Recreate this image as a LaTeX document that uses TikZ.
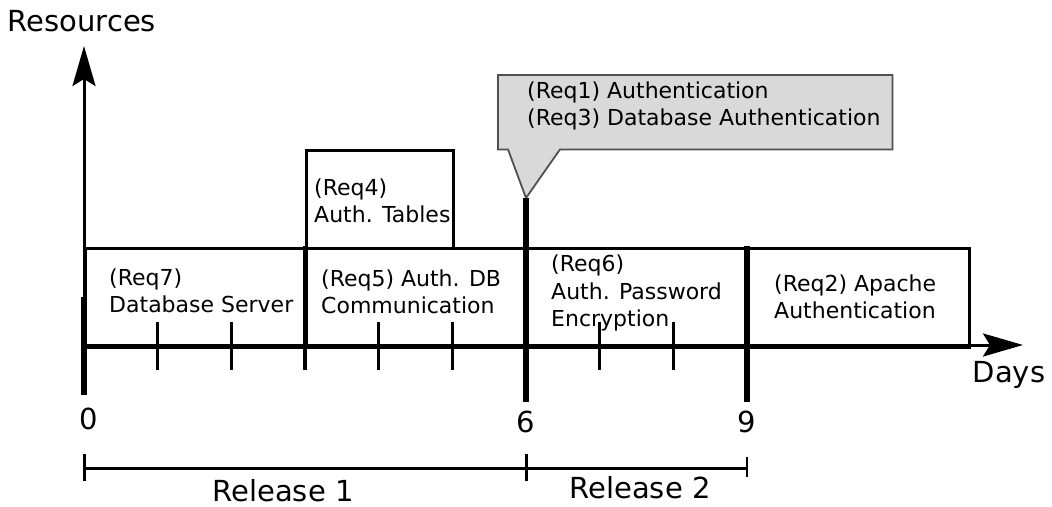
\documentclass[tikz,border=0pt]{standalone}
\usepackage{fontspec}
\setmainfont{DejaVu Sans}
\usetikzlibrary{arrows.meta}
\definecolor{calloutfill}{HTML}{D9D9D9}
\definecolor{calloutline}{HTML}{505050}
\begin{document}
\begin{tikzpicture}[x=1pt,y=-1pt,
  cell/.style={draw, line width=3pt, inner sep=0pt, anchor=north west},
  boxtext/.style={font=\fontsize{22}{27.5}\selectfont, align=left, anchor=west, inner sep=0pt},
  biglabel/.style={font=\fontsize{29}{34}\selectfont, inner sep=0pt, anchor=base},
  axisline/.style={line width=3pt, -{Stealth[length=40pt,width=23pt,inset=7pt]}},
  marker/.style={line width=5.8pt},
  tickmark/.style={line width=3pt},
  bracket/.style={line width=3pt}]
\useasboundingbox (0,0) rectangle (1052,506);

% requirement cells on the timeline
\node[cell, minimum width=221pt, minimum height=99pt] (c7) at (84,246.5) {};
\node[cell, minimum width=221pt, minimum height=99pt] (c5) at (305,246.5) {};
\node[cell, minimum width=221pt, minimum height=99pt] (c6) at (526,246.5) {};
\node[cell, minimum width=221pt, minimum height=99pt] (c2) at (747,246.5) {};
\node[cell, minimum width=147pt, minimum height=97.5pt] (c4) at (305,149) {};

\node[boxtext] (t7) at (109,291) {(Req7)\\Database Server};
\node[boxtext] (t5) at (321,292) {(Req5) Auth. DB\\Communication};
\node[boxtext] (t4) at (314,201) {(Req4)\\Auth. Tables};
\node[boxtext] (t6) at (551,293) {(Req6)\\Auth. Password\\Encryption};
\node[boxtext] (t2) at (774,297) {(Req2) Apache\\Authentication};

% callout for the requirements released at day 6
\node[inner sep=0pt, minimum width=394pt, minimum height=74pt, anchor=north west] (call) at (498,75) {};
\coordinate (tip) at (526,198);
\filldraw[fill=calloutfill, draw=calloutline, line width=1.8pt, line join=miter]
  (call.north west) -- (call.north east) -- (call.south east)
  -- ([xshift=62pt]call.south west) -- (tip) -- ([xshift=10pt]call.south west)
  -- (call.south west) -- cycle;
\node[boxtext] (t13) at (527,106) {(Req1) Authentication\\(Req3) Database Authentication};

% axes
\coordinate (origin) at (84,345);
\coordinate (ytip) at (84,46);
\coordinate (xtip) at (1023,345);
\draw[axisline] (origin) -- (ytip);
\draw[axisline] ([xshift=-1.5pt]origin) -- (xtip);
\node[biglabel] (res) at (82,31) {Resources};
\node[biglabel] (days) at (1009,382) {Days};

% day ticks
\foreach \d in {1,2,4,5,7,8}
  \draw[tickmark] ({84+73.67*\d},322) -- ({84+73.67*\d},370);
\draw[line width=3.6pt] (305,246) -- (305,370);

% release boundaries
\draw[marker] (84,297) -- (84,395);
\draw[marker] (tip) -- (526,402);
\draw[marker] (747,246) -- (747,402);
\node[biglabel] (d0) at (89,429) {0};
\node[biglabel] (d6) at (526,432) {6};
\node[biglabel] (d9) at (747,432) {9};

% release spans
\coordinate (r0) at (84,468);
\coordinate (r6) at (526,468);
\coordinate (r9) at (747,468);
\draw[bracket] (r0) -- (r9);
\draw[bracket] ([yshift=-13pt]r0) -- ([yshift=14pt]r0);
\draw[bracket] ([yshift=-13pt]r6) -- ([yshift=14pt]r6);
\draw[line width=2.2pt] ([yshift=-9pt]r9) -- ([yshift=11pt]r9);
\node[biglabel] (rel1) at (283,501) {Release 1};
\node[biglabel] (rel2) at (640,498) {Release 2};
\end{tikzpicture}
\end{document}
